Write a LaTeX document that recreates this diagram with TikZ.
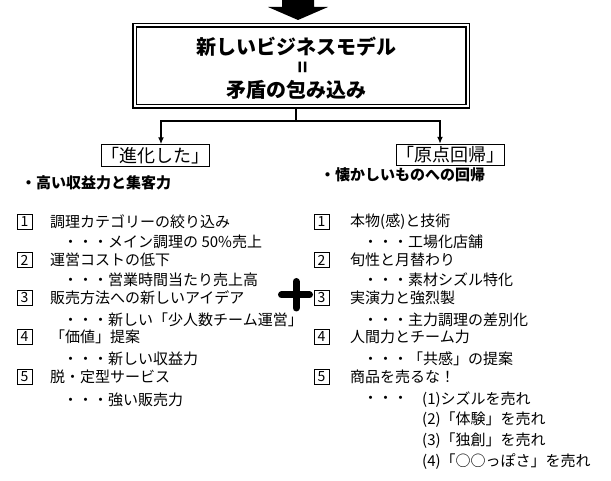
\documentclass[tikz,border=0pt]{standalone}
\usepackage{fontspec}
\setmainfont{Noto Sans CJK JP}
\usetikzlibrary{arrows.meta}
\usetikzlibrary{positioning}

\begin{document}
\begin{tikzpicture}[x=1pt,y=-1pt,>={Latex[length=7pt,width=6pt]},
	numbox/.style={draw,thin,minimum width=15pt,minimum height=15pt,inner sep=0pt,font=\fontsize{14pt}{14pt}\selectfont},
	item/.style={anchor=west,inner sep=0pt,font=\fontsize{15pt}{18pt}\selectfont},
	headline/.style={anchor=west,inner sep=0pt,font=\fontsize{15pt}{18pt}\selectfont\bfseries},
	titleline/.style={inner sep=0pt,font=\fontsize{20pt}{22pt}\selectfont\bfseries},
	tagbox/.style={draw,thin,inner sep=0pt,minimum height=22pt,font=\fontsize{18pt}{20pt}\selectfont}]
	\useasboundingbox (0,0) rectangle (611,481);
	% block arrow on top
	\fill[black] (282,0) -- (314,0) -- (314,7) -- (328,7) -- (298,20) -- (268,7) -- (282,7) -- cycle;
	% title box
	\node[draw,double,double distance=2pt,line width=1.5pt,minimum width=333pt,minimum height=81pt] (title) at (301,66) {};
	\node[titleline] (model) at (296,47) {新しいビジネスモデル};
	\node[titleline,rotate=90] (eq) at (305,67) {=};
	\node[titleline] (wrap) at (296,90) {矛盾の包み込み};
	% branches
	\node[tagbox,minimum width=108pt] (evo) at (155,155.5) {「進化した」};
	\node[tagbox,minimum width=96pt,minimum height=21pt] (orig) at (450,154.5) {「原点回帰」};
	\coordinate (split) at (296,121);
	\draw[line width=1.5pt] (split |- title.south) -- (split);
	\draw[line width=1.5pt,->] (split) -| ([xshift=6pt]evo.north);
	\draw[line width=1.5pt,->] (split) -| ([xshift=-10pt]orig.north);
	% left column
	\node[headline] (lhead) at (21,183) {・高い収益力と集客力};
	\node[numbox] (l1) at (24.5,222) {1};
	\node[item] (l1a) at (50,222) {調理カテゴリーの絞り込み};
	\node[item] (l1b) at (63,242) {・・・メイン調理の 50\%売上};
	\node[numbox] (l2) at (24.5,260) {2};
	\node[item] (l2a) at (50,260) {運営コストの低下};
	\node[item] (l2b) at (63,280) {・・・営業時間当たり売上高};
	\node[numbox] (l3) at (24.5,298) {3};
	\node[item] (l3a) at (50,298) {販売方法への新しいアイデア};
	\node[item] (l3b) at (63,320) {・・・新しい「少人数チーム運営」};
	\node[numbox] (l4) at (24.5,337) {4};
	\node[item] (l4a) at (50,337) {「価値」提案};
	\node[item] (l4b) at (63,359) {・・・新しい収益力};
	\node[numbox] (l5) at (24.5,377) {5};
	\node[item] (l5a) at (50,377) {脱・定型サービス};
	\node[item] (l5b) at (63,400) {・・・強い販売力};
	% plus
	\draw[line width=7pt,line cap=round] (281.5,295) -- (309.5,295);
	\draw[line width=7pt,line cap=round] (296,281.5) -- (296,308);
	% right column
	\node[headline] (rhead) at (320,175) {・懐かしいものへの回帰};
	\node[numbox] (r1) at (321.5,222) {1};
	\node[item] (r1a) at (350,222) {本物(感)と技術};
	\node[item] (r1b) at (363,242) {・・・工場化店舗};
	\node[numbox] (r2) at (321.5,260) {2};
	\node[item] (r2a) at (350,260) {旬性と月替わり};
	\node[item] (r2b) at (363,280) {・・・素材シズル特化};
	\node[numbox] (r3) at (321.5,298) {3};
	\node[item] (r3a) at (350,298) {実演力と強烈製};
	\node[item] (r3b) at (363,320) {・・・主力調理の差別化};
	\node[numbox] (r4) at (321.5,337) {4};
	\node[item] (r4a) at (350,337) {人間力とチーム力};
	\node[item] (r4b) at (363,359) {・・・「共感」の提案};
	\node[numbox] (r5) at (321.5,377) {5};
	\node[item] (r5a) at (350,377) {商品を売るな！};
	\node[item] (r5b) at (363,400) {・・・};
	\node[item] (r5c) at (422,400) {(1)シズルを売れ};
	\node[item] (r5d) at (422,420) {(2)「体験」を売れ};
	\node[item] (r5e) at (422,441) {(3)「独創」を売れ};
	\node[item] (r5f) at (422,462) {(4)「○○っぽさ」を売れ};
\end{tikzpicture}
\end{document}
